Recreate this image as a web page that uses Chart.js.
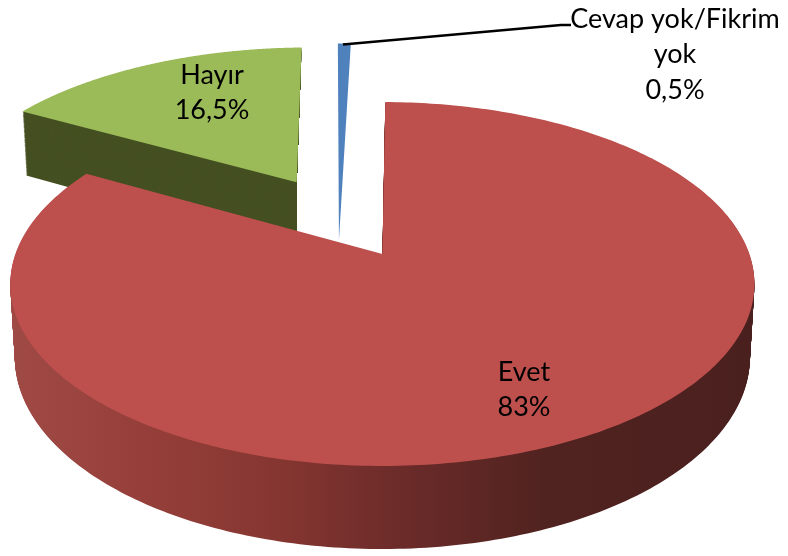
<!DOCTYPE html>
<html><head><meta charset="utf-8">
<style>html,body{margin:0;padding:0;background:#fff}canvas{display:block}</style>
<script src="https://cdn.jsdelivr.net/npm/chart.js@4"></script>
</head><body>
<canvas id="c" width="788" height="556"></canvas>
<script>
const categories = ['Evet', 'Hayır', 'Cevap yok/Fikrim yok'];
const values = [83, 16.5, 0.5];
const labelLines = [['Evet'], ['Hayır'], ['Cevap yok/Fikrim', 'yok']];
const labelCentres = [[524, 372], [212, 75], [675, 19]];
const topColors = ['#BD504D', '#9BBB59', '#4F81BD'];
const wallColors = [null, '#455022', null];
const explodeU = [-0.003, -0.2535, -0.123];
const explodeV = [0, -0.435, -0.08];
const radiusScale = [1, 1.01, 1.4];

// Perspective view of the pie plane (fitted to the reference)
const view = {cx: 383.5, cy: 254, a: 177, b: 367, q: 0.165, e: 0.012, h: 72.9};
function project(u, v, t) {
  const d = 1 + view.e * t - view.q * v;
  return [view.cx + view.b * u / d, view.cy + (view.a * v + view.h * t) / d];
}

// Context wrapper: maps what ArcElement draws into the tilted view
function viewContext(ctx, el, i, t, fill) {
  const R = el.outerRadius;
  const map = (px, py) => project(
    radiusScale[i] * (px - el.x) / R + explodeU[i],
    radiusScale[i] * (py - el.y) / R + explodeV[i], t);
  const over = {
    moveTo(x, y) { const p = map(x, y); ctx.moveTo(p[0], p[1]); },
    lineTo(x, y) { const p = map(x, y); ctx.lineTo(p[0], p[1]); },
    arc(x, y, r, a0, a1, ccw) {
      const steps = 160;
      let sweep = a1 - a0;
      if (ccw && sweep > 0) sweep -= Math.PI * 2;
      if (!ccw && sweep < 0) sweep += Math.PI * 2;
      for (let s = 0; s <= steps; s++) {
        const ang = a0 + sweep * s / steps;
        const p = map(x + r * Math.cos(ang), y + r * Math.sin(ang));
        ctx.lineTo(p[0], p[1]);
      }
    },
    translate() {}
  };
  return new Proxy(ctx, {
    get(tg, prop) {
      if (prop in over) return over[prop];
      const val = tg[prop];
      return typeof val === 'function' ? val.bind(tg) : val;
    },
    set(tg, prop, val) {
      if (prop === 'fillStyle') { tg.fillStyle = fill || val; return true; }
      if (prop === 'lineWidth' || prop === 'strokeStyle') return true;
      tg[prop] = val;
      return true;
    }
  });
}

// Keeps a back slice's wall from showing past its right-hand radial edge
function clipWall(ctx, el, i) {
  const s = radiusScale[i];
  const apex = project(explodeU[i], explodeV[i], 0);
  const rim = project(explodeU[i] + s * Math.cos(el.endAngle),
                      explodeV[i] + s * Math.sin(el.endAngle), 0);
  ctx.beginPath();
  ctx.moveTo(0, 0);
  ctx.lineTo(rim[0], 0);
  ctx.lineTo(rim[0], rim[1]);
  ctx.lineTo(apex[0], apex[1]);
  ctx.lineTo(apex[0] - 1, 556);
  ctx.lineTo(0, 556);
  ctx.closePath();
  ctx.clip();
}

const pie3d = {
  id: 'pie3d',
  beforeDatasetDraw(chart, args) {
    const ctx = chart.ctx;
    const arcs = chart.getDatasetMeta(args.index).data;
    const redWall = ctx.createLinearGradient(10, 0, 750, 0);
    redWall.addColorStop(0, '#A04A46');
    redWall.addColorStop(0.18, '#963F3A');
    redWall.addColorStop(0.36, '#863631');
    redWall.addColorStop(0.53, '#6B2B29');
    redWall.addColorStop(0.72, '#512320');
    redWall.addColorStop(1, '#4A201E');
    const order = [2, 1, 0];
    order.forEach(i => {
      const el = arcs[i];
      const wall = i === 0 ? redWall : wallColors[i];
      if (wall) {
        ctx.save();
        if (i !== 0) clipWall(ctx, el, i);
        const N = 90;
        for (let k = N; k > 0; k--) {
          el.draw(viewContext(ctx, el, i, k / N, wall));
        }
        ctx.restore();
      }
      el.draw(viewContext(ctx, el, i, 0, topColors[i]));
    });
    return false;
  },
  afterDatasetsDraw(chart) {
    const ctx = chart.ctx;
    ctx.save();
    ctx.strokeStyle = '#000';
    ctx.lineWidth = 2.6;
    ctx.lineJoin = 'round';
    ctx.beginPath();
    ctx.moveTo(343, 44.5);
    ctx.lineTo(561, 25);
    ctx.lineTo(571, 25);
    ctx.stroke();
    ctx.fillStyle = '#000';
    ctx.font = '27px Lato, Carlito, sans-serif';
    ctx.textAlign = 'center';
    ctx.textBaseline = 'middle';
    categories.forEach((c, i) => {
      const pct = String(values[i]).replace('.', ',') + '%';
      const lines = labelLines[i].concat(pct);
      lines.forEach((line, k) => {
        ctx.fillText(line, labelCentres[i][0], labelCentres[i][1] + k * 35.5);
      });
    });
    ctx.restore();
  }
};

new Chart(document.getElementById('c'), {
  type: 'pie',
  data: {
    labels: categories,
    datasets: [{data: values, backgroundColor: topColors, borderWidth: 0}]
  },
  options: {
    responsive: false,
    animation: false,
    events: [],
    rotation: 0.5,
    plugins: {legend: {display: false}, tooltip: {enabled: false}}
  },
  plugins: [pie3d]
});
</script>
</body></html>
